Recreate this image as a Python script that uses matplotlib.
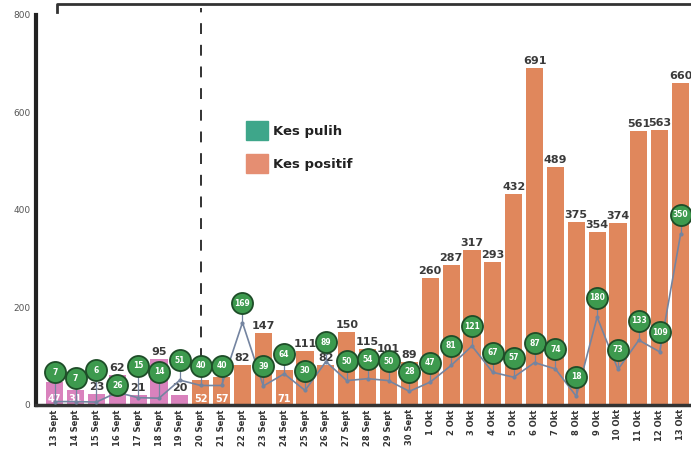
# Kes positif vs kes pulih, 13 Sept - 13 Okt
import matplotlib.pyplot as plt
from matplotlib.patches import Patch

tarikh = ['13 Sept', '14 Sept', '15 Sept', '16 Sept', '17 Sept', '18 Sept', '19 Sept',
          '20 Sept', '21 Sept', '22 Sept', '23 Sept', '24 Sept', '25 Sept', '26 Sept',
          '27 Sept', '28 Sept', '29 Sept', '30 Sept', '1 Okt', '2 Okt', '3 Okt', '4 Okt',
          '5 Okt', '6 Okt', '7 Okt', '8 Okt', '9 Okt', '10 Okt', '11 Okt', '12 Okt', '13 Okt']
kes_positif = [47, 31, 23, 62, 21, 95, 20, 52, 57, 82, 147, 71, 111, 82, 150, 115, 101, 89,
               260, 287, 317, 293, 432, 691, 489, 375, 354, 374, 561, 563, 660]
kes_pulih = [7, 7, 6, 26, 15, 14, 51, 40, 40, 169, 39, 64, 30, 89, 50, 54, 50, 28,
             47, 81, 121, 67, 57, 87, 74, 18, 180, 73, 133, 109, 350]

pink = '#d982bd'
oren = '#e0875c'
hijau = '#3d9a4e'
garis = '#7484a0'

x = list(range(len(tarikh)))
warna = [pink if i < 7 else oren for i in x]
label_dalam = [0, 1, 7, 8, 11]  # nombor putih di dalam bar
# jarak bulatan di atas titik (minggu pertama disusun ikut keratan asal)
jarak = [60, 48, 65, 15, 65, 54, 41] + [40] * 24

fig = plt.figure(figsize=(6.91, 4.5), dpi=100)
ax = fig.add_axes([0.052, 0.1, 0.948, 0.867])

bars = ax.bar(x, kes_positif, width=0.82, color=warna, zorder=1)
for i, v in enumerate(kes_positif):
    if i in label_dalam:
        ax.text(i, 2, str(v), ha='center', va='bottom', fontsize=7, color='white',
                fontweight='bold', zorder=2)
    else:
        ax.text(i, v + 4, str(v), ha='center', va='bottom', fontsize=8, color='#3a3a3a',
                fontweight='semibold', zorder=2)

# garisan kes pulih
atas = [v + j for v, j in zip(kes_pulih, jarak)]
ax.plot(x, kes_pulih, color=garis, lw=1.2, marker='o', ms=2, zorder=3)
for i, v in enumerate(kes_pulih):
    ax.plot([i, i], [v, atas[i]], color=garis, lw=0.9, zorder=3)
ax.scatter(x, atas, s=230, color=hijau, edgecolor='#1e4d28', linewidth=1.3, zorder=4)
for i, v in enumerate(kes_pulih):
    ax.text(i, atas[i], str(v), ha='center', va='center', fontsize=5.5, color='white',
            fontweight='bold', zorder=5)

# garis putus-putus dan kurungan atas
ax.plot([7, 7], [atas[7] + 14, 815], color='#222222', lw=1.3,
        dashes=(6, 6), clip_on=False, zorder=0)
ax.plot([0.1, 0.1, 30.6], [805, 822, 822], color='#333333', lw=2, clip_on=False)

ax.set_xlim(-0.9, 30.5)
ax.set_ylim(0, 800)
ax.set_xticks(x)
ax.set_xticklabels(tarikh, rotation=90, fontsize=6, fontweight='bold', color='#333333')
ax.set_yticks([0, 200, 400, 600, 800])
ax.set_yticklabels(['0', '200', '400', '600', '800'], fontsize=6.5, color='#555555')
ax.tick_params(length=0, pad=4)
ax.tick_params(axis='x', pad=3)

for s in ['top', 'right']:
    ax.spines[s].set_visible(False)
ax.spines['left'].set_linewidth(3)
ax.spines['bottom'].set_linewidth(2.5)
ax.spines['left'].set_color('#222222')
ax.spines['bottom'].set_color('#333333')

handles = [Patch(color='#3ea68a', label='Kes pulih'), Patch(color='#e58e72', label='Kes positif')]
leg = ax.legend(handles=handles, loc='upper left', bbox_to_anchor=(0.31, 0.745), frameon=False,
                borderpad=0, handlelength=1.7, handleheight=1.8, labelspacing=1.1,
                handletextpad=0.4, prop={'size': 9.5, 'weight': 'bold'})
for t in leg.get_texts():
    t.set_color('#222222')

fig.savefig('out.png', dpi=100)
